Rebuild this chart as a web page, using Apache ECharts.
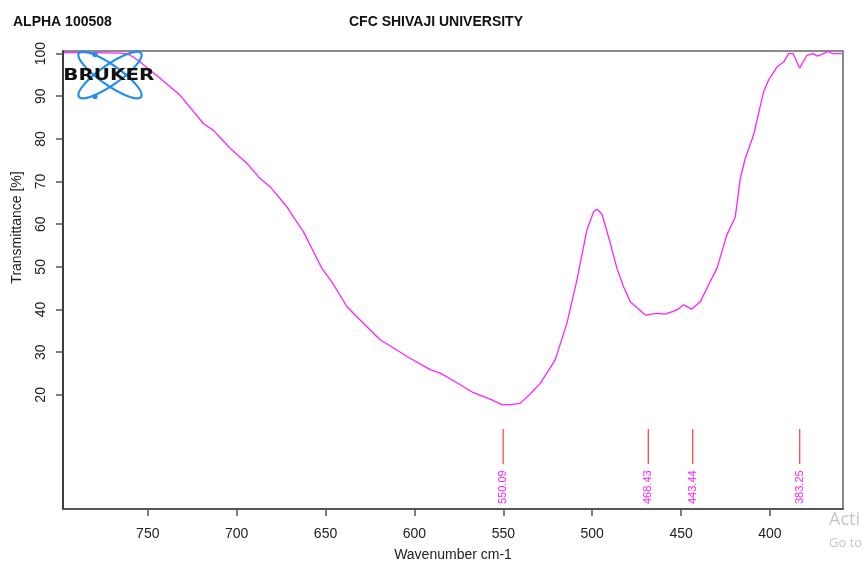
<!DOCTYPE html>
<html><head><meta charset="utf-8">
<script src="https://cdn.jsdelivr.net/npm/echarts@6/dist/echarts.min.js"></script>
<style>html,body{margin:0;padding:0;background:#fff}#c{width:863px;height:562px}</style>
</head><body><div id="c"></div>
<script>
const wavenumbers = [797.1, 780, 765, 761.8, 758.1, 754.3, 748.7, 743.1, 731.8, 718.7, 713.1, 703.7, 694.3, 686.8, 681.2, 671.8, 668.1, 662.4, 657.7, 652.1, 646.5, 638.0, 632.4, 619.3, 609.9, 604.2, 591.1, 585.5, 578.0, 566.8, 556.4, 550.8, 546.0, 540.5, 534.9, 529.2, 520.8, 514.2, 508.6, 503.0, 499.2, 497.3, 494.5, 489.8, 486.1, 482.4, 478.6, 470.1, 463.6, 458.9, 452.3, 448.6, 443.9, 439.2, 434.5, 429.8, 424.2, 419.5, 416.7, 413.9, 409.2, 403.6, 400.8, 396.0, 392.3, 389.5, 387.0, 383.3, 379.2, 375.8, 373.2, 367.0, 365.1, 359.5];
const transmittance = [100.2, 100.2, 100.1, 100.0, 99.2, 98.0, 96.1, 94.2, 90.2, 83.6, 82.0, 77.8, 74.3, 70.7, 68.8, 64.1, 61.7, 58.2, 54.3, 49.7, 46.5, 40.7, 38.3, 32.9, 30.5, 29.0, 25.9, 25.1, 23.3, 20.5, 18.8, 17.7, 17.7, 18.0, 20.2, 22.7, 28.2, 36.8, 46.9, 58.6, 62.9, 63.5, 62.4, 55.5, 49.7, 45.4, 41.8, 38.7, 39.1, 38.9, 39.9, 41.1, 40.1, 41.8, 45.8, 49.7, 57.5, 61.7, 70.7, 75.4, 80.9, 91.0, 93.75, 96.9, 98.0, 100.0, 100.0, 96.6, 99.6, 100.0, 99.4, 100.5, 100.0, 100.0];
const xTicks = [750, 700, 650, 600, 550, 500, 450, 400];
const yTicks = [20, 30, 40, 50, 60, 70, 80, 90, 100];
const peakWavenumbers = [550.09, 468.43, 443.44, 383.25];
const peakLabels = ['550.09', '468.43', '443.44', '383.25'];
const peakLineTop = 12.0;
const peakLineBottom = 3.8;
const peakLabelTop = 2.3;
const xMin = 358.9, xMax = 797.7, yMin = -6.76, yMax = 100.6;

const FONT = '"Liberation Sans", Arial, sans-serif';
const chart = echarts.init(document.getElementById('c'), null, {renderer: 'canvas'});
const curve = wavenumbers.map((w, i) => [w, transmittance[i]]);
const peaks = peakWavenumbers.map(w => [w, peakLineTop]);

chart.setOption({
  animation: false,
  backgroundColor: '#fff',
  grid: {left: 63, top: 51, right: 20, bottom: 53, show: true, borderColor: '#666', borderWidth: 1.5, backgroundColor: 'transparent', containLabel: false, outerBoundsMode: 'none'},
  xAxis: {
    type: 'value', inverse: true, min: xMin, max: xMax,
    axisLine: {show: true, onZero: false, lineStyle: {color: '#444', width: 1.5}},
    axisTick: {show: true, length: 7, customValues: xTicks, lineStyle: {color: '#555', width: 1.5}},
    axisLabel: {customValues: xTicks, margin: 18, fontSize: 14, color: '#222', fontFamily: FONT},
    splitLine: {show: false},
    name: 'Wavenumber cm-1', nameLocation: 'middle', nameGap: 39,
    nameTextStyle: {fontSize: 14, color: '#222', fontFamily: FONT}
  },
  yAxis: {
    type: 'value', min: yMin, max: yMax, position: 'left',
    axisLine: {show: true, onZero: false, lineStyle: {color: '#222', width: 1.5}},
    axisTick: {show: true, length: 7, customValues: yTicks, lineStyle: {color: '#555', width: 1.5}},
    axisLabel: {customValues: yTicks, rotate: 90, margin: 15, fontSize: 14, color: '#222', fontFamily: FONT},
    splitLine: {show: false}
  },
  series: [
    {
      type: 'line', data: curve, showSymbol: false, symbol: 'none', smooth: false,
      lineStyle: {color: '#ff22ff', width: 1.3}, z: 2
    },
    {
      type: 'custom', data: peaks, encode: {x: 0, y: 1}, z: 3,
      renderItem: function (params, api) {
        const w = api.value(0);
        const p1 = api.coord([w, peakLineTop]);
        const p2 = api.coord([w, peakLineBottom]);
        const p3 = api.coord([w, peakLabelTop]);
        return {type: 'group', children: [
          {type: 'line', shape: {x1: p1[0], y1: p1[1], x2: p2[0], y2: p2[1]}, style: {stroke: '#ff3b3b', lineWidth: 1.2}},
          {type: 'text', x: p3[0], y: p3[1], rotation: Math.PI / 2,
           style: {text: peakLabels[params.dataIndex], fill: '#ff22ff', font: '11px ' + FONT, align: 'right', verticalAlign: 'middle'}}
        ]};
      }
    }
  ],
  graphic: [
    {type: 'text', x: 13, y: 22, z: 10, style: {text: 'ALPHA 100508', font: 'bold 14px ' + FONT, fill: '#111', verticalAlign: 'middle'}},
    {type: 'text', x: 436, y: 22, z: 10, style: {text: 'CFC SHIVAJI UNIVERSITY', font: 'bold 14px ' + FONT, fill: '#111', align: 'center', verticalAlign: 'middle'}},
    {type: 'text', x: 17.5, y: 227.5, rotation: Math.PI / 2, z: 10, style: {text: 'Transmittance [%]', font: '14px ' + FONT, fill: '#222', align: 'center', verticalAlign: 'middle'}},
    {type: 'ellipse', x: 110, y: 75, rotation: 35 * Math.PI / 180, z: 20, shape: {cx: 0, cy: 0, rx: 38, ry: 10}, style: {fill: 'none', stroke: '#1f8ef1', lineWidth: 2.2}},
    {type: 'ellipse', x: 110, y: 75, rotation: -35 * Math.PI / 180, z: 20, shape: {cx: 0, cy: 0, rx: 38, ry: 10}, style: {fill: 'none', stroke: '#1f8ef1', lineWidth: 2.2}},
    {type: 'circle', z: 21, shape: {cx: 95, cy: 54.5, r: 2.6}, style: {fill: '#1f8ef1'}},
    {type: 'circle', z: 21, shape: {cx: 95, cy: 96.5, r: 2.6}, style: {fill: '#1f8ef1'}},
    {type: 'text', x: 108.8, y: 75.8, scaleX: 1.33, z: 22, style: {text: 'BRUKER', font: 'bold 15px "DejaVu Sans", sans-serif', fill: '#111', align: 'center', verticalAlign: 'middle'}},
    {type: 'text', x: 829, y: 520, z: 30, style: {text: 'Acti', font: '18px "Open Sans", sans-serif', fill: '#c6c6c6', verticalAlign: 'middle'}},
    {type: 'text', x: 829, y: 543, z: 30, style: {text: 'Go to', font: '13px "Open Sans", sans-serif', fill: '#c6c6c6', verticalAlign: 'middle'}}
  ]
});
</script>
</body></html>
